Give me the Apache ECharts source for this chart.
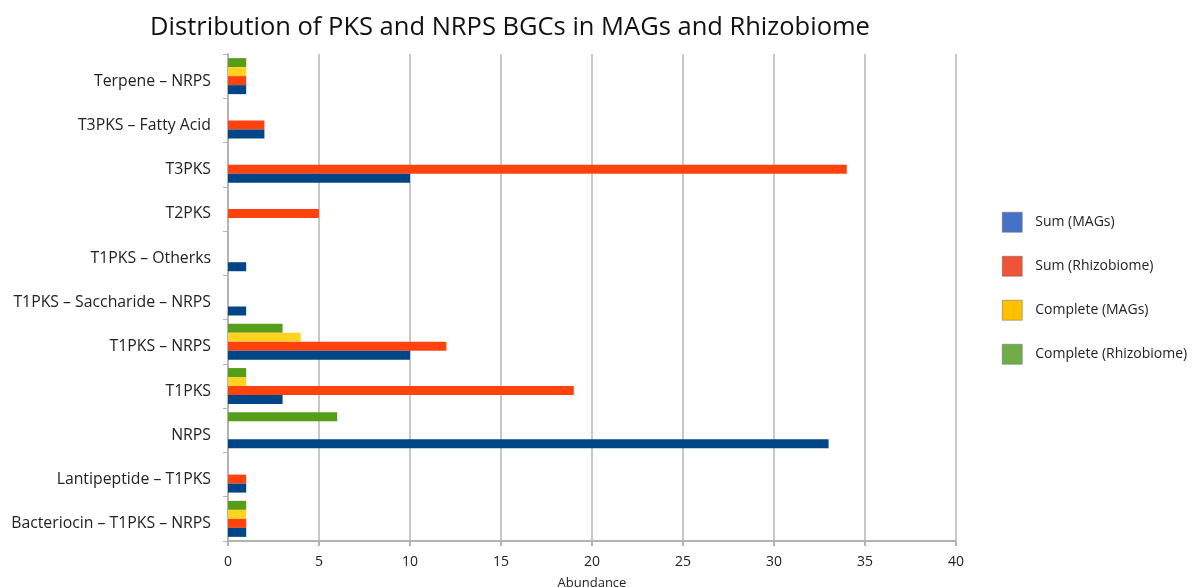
<!DOCTYPE html>
<html><head><meta charset="utf-8">
<script src="https://cdn.jsdelivr.net/npm/echarts@6/dist/echarts.min.js"></script>
<style>html,body{margin:0;padding:0;background:#fff}#c{width:1204px;height:587px}</style>
</head><body><div id="c"></div>
<script>
const categories = ['Bacteriocin – T1PKS – NRPS','Lantipeptide – T1PKS','NRPS','T1PKS','T1PKS – NRPS','T1PKS – Saccharide – NRPS','T1PKS – Otherks','T2PKS','T3PKS','T3PKS – Fatty Acid','Terpene – NRPS'];
const sumMAGs = [1,1,33,3,10,1,1,0,10,2,1];
const sumRhizo = [1,1,0,19,12,0,0,5,34,2,1];
const completeMAGs = [1,0,0,1,4,0,0,0,0,0,1];
const completeRhizo = [1,0,6,1,3,0,0,0,0,0,1];
const xTicks = [0,5,10,15,20,25,30,35,40];
const seriesNames = ['Sum (MAGs)','Sum (Rhizobiome)','Complete (MAGs)','Complete (Rhizobiome)'];
const barColors = ['#004586','#ff420e','#ffd320','#579d1c'];
const legendColors = ['#4472c4','#ee5537','#ffc000','#70ad47'];
const font = 'Open Sans, Noto Sans, sans-serif';
const chart = echarts.init(document.getElementById('c'));
const vals = [sumMAGs,sumRhizo,completeMAGs,completeRhizo];
const order = [3,2,1,0];
chart.setOption({
  animation:false,
  title:{text:'Distribution of PKS and NRPS BGCs in MAGs and Rhizobiome',left:505,textAlign:'center',top:10,
    textStyle:{fontFamily:font,fontSize:25.5,fontWeight:'normal',color:'#111'}},
  grid:{left:228,right:248,top:54,bottom:46,containLabel:false,outerBoundsMode:'none'},
  legend:{orient:'vertical',left:997,top:207,itemWidth:20,itemHeight:20,itemGap:23.5,
    textStyle:{fontFamily:font,fontSize:14,color:'#222',padding:[0,0,0,8]},
    data:seriesNames.map((n,i)=>({name:n,icon:'rect',itemStyle:{color:legendColors[i],borderColor:'#667',borderWidth:0.5}}))},
  xAxis:{type:'value',min:xTicks[0],max:xTicks[xTicks.length-1],interval:5,
    name:'Abundance',nameLocation:'middle',nameGap:36,nameTextStyle:{fontFamily:font,fontSize:13,color:'#222'},
    axisLine:{show:true,lineStyle:{color:'#b3b3b3',width:2}},
    axisTick:{show:true,length:5,lineStyle:{color:'#b3b3b3',width:2}},
    axisLabel:{fontFamily:font,fontSize:14,color:'#222',margin:14},
    splitLine:{show:true,lineStyle:{color:'#c8c8c8',width:2}}},
  yAxis:{type:'category',data:categories,
    axisLine:{show:true,lineStyle:{color:'#b3b3b3',width:2}},
    axisTick:{show:true,length:5,lineStyle:{color:'#b3b3b3',width:1}},
    axisLabel:{fontFamily:font,fontSize:15.8,color:'#222',margin:17,verticalAlign:'top',lineHeight:10}},
  series:order.map(i=>({name:seriesNames[i],type:'bar',data:vals[i],barWidth:9,barGap:'0%',
    itemStyle:{color:barColors[i]}}))
});
</script></body></html>
